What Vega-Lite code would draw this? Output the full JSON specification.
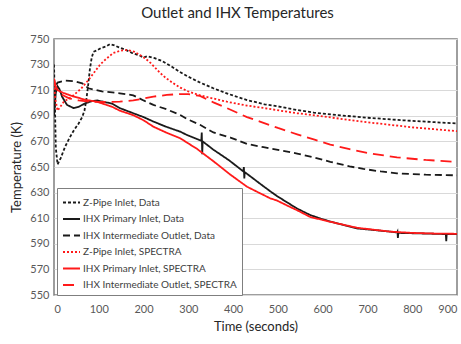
{
  "$schema": "https://vega.github.io/schema/vega-lite/v6.json",
  "autosize": {"type": "none"},
  "width": 403,
  "height": 256,
  "padding": {"left": 54, "top": 39, "right": 4, "bottom": 49},
  "background": "white",
  "title": {
    "text": "Outlet and IHX Temperatures",
    "font": "Lato",
    "fontSize": 15,
    "fontWeight": "normal",
    "color": "#262626",
    "anchor": "middle",
    "dx": -18,
    "offset": 12
  },
  "config": {
    "view": {"stroke": "#7f7f7f", "strokeWidth": 1.5},
    "axis": {
      "labelFont": "Lato",
      "titleFont": "Lato",
      "labelColor": "#595959",
      "titleColor": "#262626",
      "labelFontSize": 11,
      "titleFontSize": 13,
      "titleFontWeight": "normal",
      "ticks": false,
      "domain": false,
      "gridColor": "#d9d9d9",
      "gridWidth": 1
    },
    "legend": {
      "labelFont": "Lato",
      "labelFontSize": 10,
      "labelColor": "#404040",
      "labelLimit": 300
    }
  },
  "data": {
    "values": [
      {"s": "Z-Pipe Inlet, Data", "t": 0, "T": 730},
      {"s": "Z-Pipe Inlet, Data", "t": 2, "T": 700},
      {"s": "Z-Pipe Inlet, Data", "t": 4, "T": 665},
      {"s": "Z-Pipe Inlet, Data", "t": 8, "T": 652},
      {"s": "Z-Pipe Inlet, Data", "t": 15, "T": 657},
      {"s": "Z-Pipe Inlet, Data", "t": 25, "T": 666},
      {"s": "Z-Pipe Inlet, Data", "t": 35, "T": 673},
      {"s": "Z-Pipe Inlet, Data", "t": 45, "T": 679},
      {"s": "Z-Pipe Inlet, Data", "t": 55, "T": 684},
      {"s": "Z-Pipe Inlet, Data", "t": 63, "T": 689},
      {"s": "Z-Pipe Inlet, Data", "t": 68, "T": 694},
      {"s": "Z-Pipe Inlet, Data", "t": 72, "T": 702},
      {"s": "Z-Pipe Inlet, Data", "t": 76, "T": 713},
      {"s": "Z-Pipe Inlet, Data", "t": 80, "T": 726},
      {"s": "Z-Pipe Inlet, Data", "t": 84, "T": 735},
      {"s": "Z-Pipe Inlet, Data", "t": 88, "T": 740},
      {"s": "Z-Pipe Inlet, Data", "t": 95, "T": 741},
      {"s": "Z-Pipe Inlet, Data", "t": 105, "T": 743},
      {"s": "Z-Pipe Inlet, Data", "t": 115, "T": 744},
      {"s": "Z-Pipe Inlet, Data", "t": 125, "T": 746},
      {"s": "Z-Pipe Inlet, Data", "t": 135, "T": 745},
      {"s": "Z-Pipe Inlet, Data", "t": 145, "T": 743.5},
      {"s": "Z-Pipe Inlet, Data", "t": 160, "T": 741.5},
      {"s": "Z-Pipe Inlet, Data", "t": 175, "T": 739},
      {"s": "Z-Pipe Inlet, Data", "t": 192, "T": 737},
      {"s": "Z-Pipe Inlet, Data", "t": 200, "T": 735.5},
      {"s": "Z-Pipe Inlet, Data", "t": 208, "T": 736.5},
      {"s": "Z-Pipe Inlet, Data", "t": 225, "T": 735},
      {"s": "Z-Pipe Inlet, Data", "t": 240, "T": 733},
      {"s": "Z-Pipe Inlet, Data", "t": 260, "T": 729},
      {"s": "Z-Pipe Inlet, Data", "t": 280, "T": 724.5},
      {"s": "Z-Pipe Inlet, Data", "t": 300, "T": 720.5},
      {"s": "Z-Pipe Inlet, Data", "t": 326, "T": 716},
      {"s": "Z-Pipe Inlet, Data", "t": 356, "T": 711.5},
      {"s": "Z-Pipe Inlet, Data", "t": 390, "T": 707},
      {"s": "Z-Pipe Inlet, Data", "t": 431, "T": 702.3},
      {"s": "Z-Pipe Inlet, Data", "t": 470, "T": 699},
      {"s": "Z-Pipe Inlet, Data", "t": 506, "T": 697},
      {"s": "Z-Pipe Inlet, Data", "t": 543, "T": 694.5},
      {"s": "Z-Pipe Inlet, Data", "t": 580, "T": 692.5},
      {"s": "Z-Pipe Inlet, Data", "t": 620, "T": 691},
      {"s": "Z-Pipe Inlet, Data", "t": 699, "T": 688.5},
      {"s": "Z-Pipe Inlet, Data", "t": 780, "T": 686.5},
      {"s": "Z-Pipe Inlet, Data", "t": 850, "T": 685},
      {"s": "Z-Pipe Inlet, Data", "t": 900, "T": 684},

      {"s": "IHX Primary Inlet, Data", "t": 0, "T": 690},
      {"s": "IHX Primary Inlet, Data", "t": 4, "T": 708},
      {"s": "IHX Primary Inlet, Data", "t": 8, "T": 713},
      {"s": "IHX Primary Inlet, Data", "t": 12, "T": 711},
      {"s": "IHX Primary Inlet, Data", "t": 18, "T": 705},
      {"s": "IHX Primary Inlet, Data", "t": 29, "T": 698.5},
      {"s": "IHX Primary Inlet, Data", "t": 44, "T": 696},
      {"s": "IHX Primary Inlet, Data", "t": 55, "T": 697},
      {"s": "IHX Primary Inlet, Data", "t": 70, "T": 699.8},
      {"s": "IHX Primary Inlet, Data", "t": 85, "T": 701.5},
      {"s": "IHX Primary Inlet, Data", "t": 96, "T": 702},
      {"s": "IHX Primary Inlet, Data", "t": 130, "T": 699.5},
      {"s": "IHX Primary Inlet, Data", "t": 147, "T": 696},
      {"s": "IHX Primary Inlet, Data", "t": 177, "T": 692},
      {"s": "IHX Primary Inlet, Data", "t": 200, "T": 689},
      {"s": "IHX Primary Inlet, Data", "t": 222, "T": 685.5},
      {"s": "IHX Primary Inlet, Data", "t": 250, "T": 681.5},
      {"s": "IHX Primary Inlet, Data", "t": 282, "T": 677.6},
      {"s": "IHX Primary Inlet, Data", "t": 297, "T": 675},
      {"s": "IHX Primary Inlet, Data", "t": 329, "T": 670.5},
      {"s": "IHX Primary Inlet, Data", "t": 330, "T": 677},
      {"s": "IHX Primary Inlet, Data", "t": 331, "T": 660},
      {"s": "IHX Primary Inlet, Data", "t": 332, "T": 670},
      {"s": "IHX Primary Inlet, Data", "t": 356, "T": 663.5},
      {"s": "IHX Primary Inlet, Data", "t": 390, "T": 655.5},
      {"s": "IHX Primary Inlet, Data", "t": 423, "T": 646.5},
      {"s": "IHX Primary Inlet, Data", "t": 424, "T": 650},
      {"s": "IHX Primary Inlet, Data", "t": 425, "T": 641},
      {"s": "IHX Primary Inlet, Data", "t": 426, "T": 646},
      {"s": "IHX Primary Inlet, Data", "t": 460, "T": 637},
      {"s": "IHX Primary Inlet, Data", "t": 483, "T": 631},
      {"s": "IHX Primary Inlet, Data", "t": 498, "T": 627.3},
      {"s": "IHX Primary Inlet, Data", "t": 520, "T": 622.5},
      {"s": "IHX Primary Inlet, Data", "t": 543, "T": 617.5},
      {"s": "IHX Primary Inlet, Data", "t": 572, "T": 612.5},
      {"s": "IHX Primary Inlet, Data", "t": 601, "T": 609},
      {"s": "IHX Primary Inlet, Data", "t": 632, "T": 606},
      {"s": "IHX Primary Inlet, Data", "t": 677, "T": 602},
      {"s": "IHX Primary Inlet, Data", "t": 707, "T": 601},
      {"s": "IHX Primary Inlet, Data", "t": 751, "T": 599.5},
      {"s": "IHX Primary Inlet, Data", "t": 766, "T": 598.8},
      {"s": "IHX Primary Inlet, Data", "t": 767, "T": 599.5},
      {"s": "IHX Primary Inlet, Data", "t": 768, "T": 594.5},
      {"s": "IHX Primary Inlet, Data", "t": 769, "T": 598.5},
      {"s": "IHX Primary Inlet, Data", "t": 830, "T": 598},
      {"s": "IHX Primary Inlet, Data", "t": 875, "T": 597.6},
      {"s": "IHX Primary Inlet, Data", "t": 876, "T": 592},
      {"s": "IHX Primary Inlet, Data", "t": 877, "T": 597.5},
      {"s": "IHX Primary Inlet, Data", "t": 900, "T": 597.6},

      {"s": "IHX Intermediate Outlet, Data", "t": 0, "T": 706},
      {"s": "IHX Intermediate Outlet, Data", "t": 3, "T": 713},
      {"s": "IHX Intermediate Outlet, Data", "t": 8, "T": 716},
      {"s": "IHX Intermediate Outlet, Data", "t": 25, "T": 717.5},
      {"s": "IHX Intermediate Outlet, Data", "t": 45, "T": 717},
      {"s": "IHX Intermediate Outlet, Data", "t": 63, "T": 715.4},
      {"s": "IHX Intermediate Outlet, Data", "t": 77, "T": 711.5},
      {"s": "IHX Intermediate Outlet, Data", "t": 95, "T": 710},
      {"s": "IHX Intermediate Outlet, Data", "t": 107, "T": 709},
      {"s": "IHX Intermediate Outlet, Data", "t": 130, "T": 708.3},
      {"s": "IHX Intermediate Outlet, Data", "t": 147, "T": 707.6},
      {"s": "IHX Intermediate Outlet, Data", "t": 177, "T": 706},
      {"s": "IHX Intermediate Outlet, Data", "t": 200, "T": 702},
      {"s": "IHX Intermediate Outlet, Data", "t": 222, "T": 698.5},
      {"s": "IHX Intermediate Outlet, Data", "t": 252, "T": 695},
      {"s": "IHX Intermediate Outlet, Data", "t": 282, "T": 690.6},
      {"s": "IHX Intermediate Outlet, Data", "t": 297, "T": 687.5},
      {"s": "IHX Intermediate Outlet, Data", "t": 326, "T": 683},
      {"s": "IHX Intermediate Outlet, Data", "t": 356, "T": 677},
      {"s": "IHX Intermediate Outlet, Data", "t": 394, "T": 673},
      {"s": "IHX Intermediate Outlet, Data", "t": 431, "T": 668},
      {"s": "IHX Intermediate Outlet, Data", "t": 468, "T": 665.5},
      {"s": "IHX Intermediate Outlet, Data", "t": 506, "T": 663},
      {"s": "IHX Intermediate Outlet, Data", "t": 543, "T": 660.5},
      {"s": "IHX Intermediate Outlet, Data", "t": 580, "T": 657.5},
      {"s": "IHX Intermediate Outlet, Data", "t": 617, "T": 654},
      {"s": "IHX Intermediate Outlet, Data", "t": 660, "T": 650.5},
      {"s": "IHX Intermediate Outlet, Data", "t": 691, "T": 648.5},
      {"s": "IHX Intermediate Outlet, Data", "t": 730, "T": 646.5},
      {"s": "IHX Intermediate Outlet, Data", "t": 766, "T": 645},
      {"s": "IHX Intermediate Outlet, Data", "t": 830, "T": 644},
      {"s": "IHX Intermediate Outlet, Data", "t": 900, "T": 643.5},

      {"s": "Z-Pipe Inlet, SPECTRA", "t": 0, "T": 718},
      {"s": "Z-Pipe Inlet, SPECTRA", "t": 3, "T": 703},
      {"s": "Z-Pipe Inlet, SPECTRA", "t": 8, "T": 694},
      {"s": "Z-Pipe Inlet, SPECTRA", "t": 14, "T": 697},
      {"s": "Z-Pipe Inlet, SPECTRA", "t": 22, "T": 701},
      {"s": "Z-Pipe Inlet, SPECTRA", "t": 40, "T": 705},
      {"s": "Z-Pipe Inlet, SPECTRA", "t": 60, "T": 711},
      {"s": "Z-Pipe Inlet, SPECTRA", "t": 77, "T": 718},
      {"s": "Z-Pipe Inlet, SPECTRA", "t": 90, "T": 724},
      {"s": "Z-Pipe Inlet, SPECTRA", "t": 103, "T": 730},
      {"s": "Z-Pipe Inlet, SPECTRA", "t": 115, "T": 734},
      {"s": "Z-Pipe Inlet, SPECTRA", "t": 132, "T": 739},
      {"s": "Z-Pipe Inlet, SPECTRA", "t": 150, "T": 741},
      {"s": "Z-Pipe Inlet, SPECTRA", "t": 165, "T": 741.4},
      {"s": "Z-Pipe Inlet, SPECTRA", "t": 180, "T": 740},
      {"s": "Z-Pipe Inlet, SPECTRA", "t": 192, "T": 737.5},
      {"s": "Z-Pipe Inlet, SPECTRA", "t": 205, "T": 734.5},
      {"s": "Z-Pipe Inlet, SPECTRA", "t": 215, "T": 731.5},
      {"s": "Z-Pipe Inlet, SPECTRA", "t": 226, "T": 727.5},
      {"s": "Z-Pipe Inlet, SPECTRA", "t": 237, "T": 723.5},
      {"s": "Z-Pipe Inlet, SPECTRA", "t": 250, "T": 719.5},
      {"s": "Z-Pipe Inlet, SPECTRA", "t": 266, "T": 715.5},
      {"s": "Z-Pipe Inlet, SPECTRA", "t": 282, "T": 712},
      {"s": "Z-Pipe Inlet, SPECTRA", "t": 300, "T": 709},
      {"s": "Z-Pipe Inlet, SPECTRA", "t": 326, "T": 706},
      {"s": "Z-Pipe Inlet, SPECTRA", "t": 356, "T": 703.5},
      {"s": "Z-Pipe Inlet, SPECTRA", "t": 386, "T": 701},
      {"s": "Z-Pipe Inlet, SPECTRA", "t": 431, "T": 698},
      {"s": "Z-Pipe Inlet, SPECTRA", "t": 470, "T": 696},
      {"s": "Z-Pipe Inlet, SPECTRA", "t": 506, "T": 694},
      {"s": "Z-Pipe Inlet, SPECTRA", "t": 543, "T": 692},
      {"s": "Z-Pipe Inlet, SPECTRA", "t": 600, "T": 689.5},
      {"s": "Z-Pipe Inlet, SPECTRA", "t": 699, "T": 685},
      {"s": "Z-Pipe Inlet, SPECTRA", "t": 800, "T": 681},
      {"s": "Z-Pipe Inlet, SPECTRA", "t": 900, "T": 678},

      {"s": "IHX Primary Inlet, SPECTRA", "t": 0, "T": 719},
      {"s": "IHX Primary Inlet, SPECTRA", "t": 3, "T": 713},
      {"s": "IHX Primary Inlet, SPECTRA", "t": 8, "T": 710},
      {"s": "IHX Primary Inlet, SPECTRA", "t": 20, "T": 708},
      {"s": "IHX Primary Inlet, SPECTRA", "t": 40, "T": 705.5},
      {"s": "IHX Primary Inlet, SPECTRA", "t": 70, "T": 702.5},
      {"s": "IHX Primary Inlet, SPECTRA", "t": 96, "T": 701},
      {"s": "IHX Primary Inlet, SPECTRA", "t": 130, "T": 697},
      {"s": "IHX Primary Inlet, SPECTRA", "t": 147, "T": 694},
      {"s": "IHX Primary Inlet, SPECTRA", "t": 177, "T": 690.5},
      {"s": "IHX Primary Inlet, SPECTRA", "t": 200, "T": 686.5},
      {"s": "IHX Primary Inlet, SPECTRA", "t": 222, "T": 681.5},
      {"s": "IHX Primary Inlet, SPECTRA", "t": 250, "T": 677},
      {"s": "IHX Primary Inlet, SPECTRA", "t": 282, "T": 672.4},
      {"s": "IHX Primary Inlet, SPECTRA", "t": 320, "T": 664},
      {"s": "IHX Primary Inlet, SPECTRA", "t": 356, "T": 654.5},
      {"s": "IHX Primary Inlet, SPECTRA", "t": 394, "T": 644},
      {"s": "IHX Primary Inlet, SPECTRA", "t": 431, "T": 634.6},
      {"s": "IHX Primary Inlet, SPECTRA", "t": 460, "T": 629.5},
      {"s": "IHX Primary Inlet, SPECTRA", "t": 483, "T": 625.5},
      {"s": "IHX Primary Inlet, SPECTRA", "t": 498, "T": 623.8},
      {"s": "IHX Primary Inlet, SPECTRA", "t": 520, "T": 620},
      {"s": "IHX Primary Inlet, SPECTRA", "t": 543, "T": 616.2},
      {"s": "IHX Primary Inlet, SPECTRA", "t": 572, "T": 611},
      {"s": "IHX Primary Inlet, SPECTRA", "t": 601, "T": 608.5},
      {"s": "IHX Primary Inlet, SPECTRA", "t": 632, "T": 606},
      {"s": "IHX Primary Inlet, SPECTRA", "t": 677, "T": 602.5},
      {"s": "IHX Primary Inlet, SPECTRA", "t": 707, "T": 601.3},
      {"s": "IHX Primary Inlet, SPECTRA", "t": 751, "T": 599.5},
      {"s": "IHX Primary Inlet, SPECTRA", "t": 800, "T": 598.5},
      {"s": "IHX Primary Inlet, SPECTRA", "t": 850, "T": 598},
      {"s": "IHX Primary Inlet, SPECTRA", "t": 900, "T": 597.8},

      {"s": "IHX Intermediate Outlet, SPECTRA", "t": 0, "T": 718},
      {"s": "IHX Intermediate Outlet, SPECTRA", "t": 4, "T": 713},
      {"s": "IHX Intermediate Outlet, SPECTRA", "t": 10, "T": 709},
      {"s": "IHX Intermediate Outlet, SPECTRA", "t": 20, "T": 706},
      {"s": "IHX Intermediate Outlet, SPECTRA", "t": 35, "T": 703.5},
      {"s": "IHX Intermediate Outlet, SPECTRA", "t": 55, "T": 702},
      {"s": "IHX Intermediate Outlet, SPECTRA", "t": 80, "T": 701},
      {"s": "IHX Intermediate Outlet, SPECTRA", "t": 110, "T": 700.8},
      {"s": "IHX Intermediate Outlet, SPECTRA", "t": 147, "T": 701},
      {"s": "IHX Intermediate Outlet, SPECTRA", "t": 177, "T": 702},
      {"s": "IHX Intermediate Outlet, SPECTRA", "t": 200, "T": 703.5},
      {"s": "IHX Intermediate Outlet, SPECTRA", "t": 222, "T": 705},
      {"s": "IHX Intermediate Outlet, SPECTRA", "t": 252, "T": 706.3},
      {"s": "IHX Intermediate Outlet, SPECTRA", "t": 282, "T": 707},
      {"s": "IHX Intermediate Outlet, SPECTRA", "t": 300, "T": 707},
      {"s": "IHX Intermediate Outlet, SPECTRA", "t": 326, "T": 705.5},
      {"s": "IHX Intermediate Outlet, SPECTRA", "t": 356, "T": 700.5},
      {"s": "IHX Intermediate Outlet, SPECTRA", "t": 386, "T": 696},
      {"s": "IHX Intermediate Outlet, SPECTRA", "t": 431, "T": 689},
      {"s": "IHX Intermediate Outlet, SPECTRA", "t": 460, "T": 685.5},
      {"s": "IHX Intermediate Outlet, SPECTRA", "t": 500, "T": 680.5},
      {"s": "IHX Intermediate Outlet, SPECTRA", "t": 543, "T": 675.5},
      {"s": "IHX Intermediate Outlet, SPECTRA", "t": 580, "T": 671.5},
      {"s": "IHX Intermediate Outlet, SPECTRA", "t": 617, "T": 667.5},
      {"s": "IHX Intermediate Outlet, SPECTRA", "t": 660, "T": 664},
      {"s": "IHX Intermediate Outlet, SPECTRA", "t": 699, "T": 661},
      {"s": "IHX Intermediate Outlet, SPECTRA", "t": 766, "T": 657.5},
      {"s": "IHX Intermediate Outlet, SPECTRA", "t": 830, "T": 655.5},
      {"s": "IHX Intermediate Outlet, SPECTRA", "t": 900, "T": 654}
    ]
  },
  "mark": {"type": "line", "strokeWidth": 1.8, "clip": true},
  "encoding": {
    "x": {
      "field": "t",
      "type": "quantitative",
      "scale": {"domain": [0, 900], "nice": false},
      "axis": {
        "title": "Time (seconds)",
        "values": [0, 100, 200, 300, 400, 500, 600, 700, 800, 900],
        "grid": false,
        "labelPadding": 8,
        "titlePadding": 6
      }
    },
    "y": {
      "field": "T",
      "type": "quantitative",
      "scale": {"domain": [550, 750], "nice": false, "zero": false},
      "axis": {
        "title": "Temperature (K)",
        "values": [550, 570, 590, 610, 630, 650, 670, 690, 710, 730, 750],
        "labelPadding": 5,
        "titlePadding": 6
      }
    },
    "color": {
      "field": "s",
      "type": "nominal",
      "sort": null,
      "scale": {
        "domain": ["Z-Pipe Inlet, Data", "IHX Primary Inlet, Data", "IHX Intermediate Outlet, Data", "Z-Pipe Inlet, SPECTRA", "IHX Primary Inlet, SPECTRA", "IHX Intermediate Outlet, SPECTRA"],
        "range": ["#1a1a1a", "#1a1a1a", "#1a1a1a", "#ff1a1a", "#ff1a1a", "#ff1a1a"]
      },
      "legend": {
        "title": null,
        "orient": "none",
        "legendX": 3,
        "legendY": 149,
        "direction": "vertical",
        "strokeColor": "#7f7f7f",
        "fillColor": "white",
        "padding": 5,
        "rowPadding": 1.5,
        "symbolType": "stroke",
        "symbolSize": 289,
        "symbolStrokeWidth": 2,
        "labelOffset": 2
      }
    },
    "strokeDash": {
      "field": "s",
      "type": "nominal",
      "sort": null,
      "scale": {
        "domain": ["Z-Pipe Inlet, Data", "IHX Primary Inlet, Data", "IHX Intermediate Outlet, Data", "Z-Pipe Inlet, SPECTRA", "IHX Primary Inlet, SPECTRA", "IHX Intermediate Outlet, SPECTRA"],
        "range": [[3, 2], [1, 0], [7, 4], [2, 2], [1, 0], [11, 6]]
      },
      "legend": {
        "title": null,
        "orient": "none",
        "legendX": 3,
        "legendY": 149,
        "direction": "vertical",
        "strokeColor": "#7f7f7f",
        "fillColor": "white",
        "padding": 5,
        "rowPadding": 1.5,
        "symbolType": "stroke",
        "symbolSize": 289,
        "symbolStrokeWidth": 2,
        "labelOffset": 2
      }
    }
  }
}
